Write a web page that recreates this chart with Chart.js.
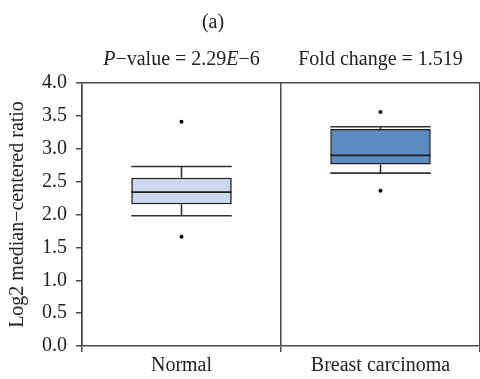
<!DOCTYPE html>
<html>
<head>
<meta charset="utf-8">
<script src="https://cdn.jsdelivr.net/npm/chart.js@4/dist/chart.umd.min.js"></script>
<style>
  html, body { margin: 0; padding: 0; background: #ffffff; }
  #wrap { width: 480px; height: 379px; position: relative; }
</style>
</head>
<body>
<div id="wrap"><canvas id="box-chart"></canvas></div>
<script>
// box plot values (log2 median-centered ratio)
const categories = ['Normal', 'Breast carcinoma'];
const whiskerLow = [1.98, 2.63];
const q1 = [2.155, 2.76];
const median = [2.34, 2.90];
const q3 = [2.56, 3.30];
const whiskerHigh = [2.73, 3.335];
const outliers = [[3.41, 1.66], [3.56, 2.36]];
const yTicks = [0, 0.5, 1, 1.5, 2, 2.5, 3, 3.5, 4];
const boxColors = ['#c9d8eb', '#5b8bbf'];

const SERIF = "'Liberation Serif', 'DejaVu Serif', serif";
const FONT_PX = 20;
const AXIS = '#4a4a4a';

// whiskers, caps and the median line, drawn through the chart's own scales
const boxExtras = {
  id: 'boxExtras',
  afterDatasetsDraw(chart) {
    const ctx = chart.ctx;
    const y = chart.scales.y;
    const bars = chart.getDatasetMeta(0).data;
    ctx.save();
    bars.forEach((bar, i) => {
      const half = bar.width / 2;
      const left = bar.x - half, right = bar.x + half;
      const yLo = y.getPixelForValue(whiskerLow[i]);
      const yHi = y.getPixelForValue(whiskerHigh[i]);
      const yQ1 = y.getPixelForValue(q1[i]);
      const yQ3 = y.getPixelForValue(q3[i]);
      const yMed = y.getPixelForValue(median[i]);

      ctx.strokeStyle = '#333333';
      ctx.lineWidth = 1.6;
      ctx.beginPath();
      ctx.moveTo(bar.x, yQ3); ctx.lineTo(bar.x, yHi);
      ctx.moveTo(bar.x, yQ1); ctx.lineTo(bar.x, yLo);
      ctx.moveTo(left, yHi); ctx.lineTo(right, yHi);
      ctx.moveTo(left, yLo); ctx.lineTo(right, yLo);
      ctx.stroke();

      ctx.strokeStyle = '#1e1e1e';
      ctx.beginPath();
      ctx.moveTo(left, yMed); ctx.lineTo(right, yMed);
      ctx.stroke();
    });
    ctx.restore();
  }
};

// header text: panel letter and the stats above each group
const headerText = {
  id: 'headerText',
  afterDraw(chart) {
    const ctx = chart.ctx;
    const x = chart.scales.x;
    ctx.save();
    ctx.fillStyle = '#222222';
    ctx.textBaseline = 'middle';
    ctx.textAlign = 'left';

    const setFont = (italic) => { ctx.font = (italic ? 'italic ' : '') + FONT_PX + 'px ' + SERIF; };
    const drawParts = (parts, cx, cy) => {
      let total = 0;
      parts.forEach(p => { setFont(p[1]); total += ctx.measureText(p[0]).width; });
      let px = cx - total / 2;
      parts.forEach(p => {
        setFont(p[1]);
        ctx.fillText(p[0], px, cy);
        px += ctx.measureText(p[0]).width;
      });
    };

    drawParts([['(a)', false]], 213, 23);
    drawParts([['P', true], ['\u2212value = 2.29', false], ['E', true], ['\u22126', false]], x.getPixelForValue(0), 60);
    drawParts([['Fold change = 1.519', false]], x.getPixelForValue(1), 60);
    ctx.restore();
  }
};

const outlierPoints = [];
outliers.forEach((vals, i) => vals.forEach(v => outlierPoints.push({ x: categories[i], y: v })));

new Chart(document.getElementById('box-chart'), {
  type: 'bar',
  data: {
    labels: categories,
    datasets: [
      {
        label: 'IQR',
        data: categories.map((c, i) => [q1[i], q3[i]]),
        backgroundColor: boxColors,
        borderColor: '#1e1e1e',
        borderWidth: 1.6,
        borderSkipped: false,
        categoryPercentage: 1,
        barPercentage: 0.505,
        order: 2
      },
      {
        type: 'line',
        label: 'Outliers',
        data: outlierPoints,
        showLine: false,
        pointRadius: 2,
        pointBackgroundColor: '#000000',
        pointBorderWidth: 0,
        order: 1
      }
    ]
  },
  options: {
    responsive: true,
    maintainAspectRatio: false,
    animation: false,
    layout: { autoPadding: false, padding: { top: 83, right: 0, bottom: 0, left: 0 } },
    plugins: {
      legend: { display: false },
      tooltip: { enabled: false }
    },
    scales: {
      x: {
        offset: true,
        afterFit: (s) => { s.height = 33; s.paddingLeft = 0; s.paddingRight = 0; },
        border: { color: AXIS, width: 1.5 },
        grid: { offset: true, color: AXIS, tickColor: AXIS, lineWidth: 1.5, tickLength: 6 },
        ticks: { color: '#222222', padding: 2, font: { family: SERIF, size: FONT_PX } }
      },
      y: {
        min: 0,
        max: 4,
        afterFit: (s) => { s.width = 82; s.paddingTop = 0; s.paddingBottom = 0; },
        afterBuildTicks: (s) => { s.ticks = yTicks.map(v => ({ value: v })); },
        border: { color: AXIS, width: 1.5 },
        grid: {
          color: (c) => (c.tick && c.tick.value === 4 ? AXIS : 'rgba(0,0,0,0)'),
          tickColor: AXIS,
          lineWidth: 1.5,
          tickLength: 6
        },
        ticks: {
          color: '#222222',
          padding: 9,
          font: { family: SERIF, size: FONT_PX },
          callback: (v) => Number(v).toFixed(1)
        },
        title: {
          display: true,
          text: 'Log2 median\u2212centered ratio',
          color: '#222222',
          padding: { top: 6, bottom: 0 },
          font: { family: SERIF, size: FONT_PX }
        }
      }
    }
  },
  plugins: [boxExtras, headerText]
});
</script>
</body>
</html>
